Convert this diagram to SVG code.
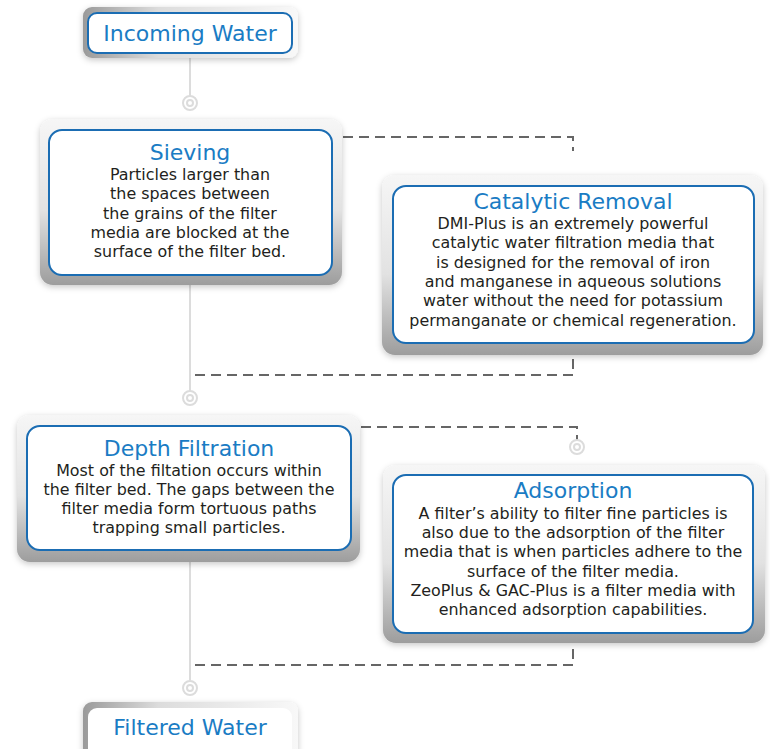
<svg xmlns="http://www.w3.org/2000/svg" width="770" height="749" viewBox="0 0 770 749">
<defs>
<linearGradient id="gv" x1="0" y1="0" x2="0" y2="1"><stop offset="0" stop-color="#f6f6f6"/><stop offset="0.55" stop-color="#e2e2e2"/><stop offset="1" stop-color="#9d9d9d"/></linearGradient>
<linearGradient id="gh" x1="0" y1="0" x2="1" y2="0"><stop offset="0" stop-color="#9a9a9a"/><stop offset="0.35" stop-color="#dcdcdc"/><stop offset="1" stop-color="#f8f8f8"/></linearGradient>
<filter id="sh" x="-10%" y="-10%" width="120%" height="130%"><feDropShadow dx="0" dy="2" stdDeviation="3" flood-color="#000" flood-opacity="0.22"/></filter>
</defs>
<style>
.plate{fill:url(#gv);filter:url(#sh)}
.plateh{fill:url(#gh);filter:url(#sh)}
.box{fill:#fff;stroke:#1b6db3;stroke-width:2}
.title{font-family:"DejaVu Sans",sans-serif;font-size:22px;fill:#1a7cc4;text-anchor:middle}
.body{font-family:"DejaVu Sans",sans-serif;font-size:15.9px;fill:#231f20;text-anchor:middle}
.solid{stroke:#dcdcdc;stroke-width:2;fill:none}
.dash{stroke:#666;stroke-width:2;fill:none;stroke-dasharray:10 6}
.ring{fill:#fff;stroke:#dcdcdc;stroke-width:2}
</style>
<rect width="770" height="749" fill="#fff"/>
<g id="connectors">
<line class="solid" x1="190" y1="57" x2="190" y2="96"/>
<line class="solid" x1="190" y1="285" x2="190" y2="391"/>
<line class="solid" x1="190" y1="562" x2="190" y2="680"/>
<circle class="ring" cx="190" cy="103" r="7"/><circle class="ring" cx="190" cy="103" r="3"/>
<circle class="ring" cx="190" cy="398" r="7"/><circle class="ring" cx="190" cy="398" r="3"/>
<circle class="ring" cx="190" cy="688" r="7"/><circle class="ring" cx="190" cy="688" r="3"/>
<polyline class="dash" points="343,137 573,137 573,151"/>
<polyline class="dash" points="195,375 573,375 573,355"/>
<polyline class="dash" points="361,427 577,427 577,440"/>
<circle class="ring" cx="577" cy="447" r="7"/><circle class="ring" cx="577" cy="447" r="3"/>
<polyline class="dash" points="195,665 573,665 573,643"/>
</g>
<g id="incoming">
<rect class="plateh" x="83" y="7" width="215" height="51" rx="9"/>
<rect class="box" x="88" y="13" width="204" height="40" rx="9"/>
<text class="title" x="190" y="41">Incoming Water</text>
</g>
<g id="sieving">
<rect class="plate" x="40" y="119" width="302" height="166" rx="13"/>
<rect class="box" x="49" y="130" width="283" height="145" rx="13"/>
<text class="title" x="190" y="160">Sieving</text>
<text class="body" x="190" y="180">Particles larger than</text>
<text class="body" x="190" y="199">the spaces between</text>
<text class="body" x="190" y="219">the grains of the filter</text>
<text class="body" x="190" y="238">media are blocked at the</text>
<text class="body" x="190" y="257">surface of the filter bed.</text>
</g>
<g id="catalytic">
<rect class="plate" x="382" y="175" width="381" height="180" rx="13"/>
<rect class="box" x="393" y="186" width="361" height="157" rx="13"/>
<text class="title" x="573" y="209">Catalytic Removal</text>
<text class="body" x="573" y="229">DMI-Plus is an extremely powerful</text>
<text class="body" x="573" y="248">catalytic water filtration media that</text>
<text class="body" x="573" y="268">is designed for the removal of iron</text>
<text class="body" x="573" y="287">and manganese in aqueous solutions</text>
<text class="body" x="573" y="306">water without the need for potassium</text>
<text class="body" x="573" y="326">permanganate or chemical regeneration.</text>
</g>
<g id="depth">
<rect class="plate" x="17" y="415" width="343" height="147" rx="13"/>
<rect class="box" x="27" y="426" width="324" height="124" rx="13"/>
<text class="title" x="189" y="456">Depth Filtration</text>
<text class="body" x="189" y="476">Most of the filtation occurs within</text>
<text class="body" x="189" y="495">the filter bed. The gaps between the</text>
<text class="body" x="189" y="514">filter media form tortuous paths</text>
<text class="body" x="189" y="533">trapping small particles.</text>
</g>
<g id="adsorption">
<rect class="plate" x="383" y="465" width="382" height="178" rx="13"/>
<rect class="box" x="393" y="475" width="360" height="158" rx="13"/>
<text class="title" x="573" y="498">Adsorption</text>
<text class="body" x="573" y="519">A filter’s ability to filter fine particles is</text>
<text class="body" x="573" y="538">also due to the adsorption of the filter</text>
<text class="body" x="573" y="557">media that is when particles adhere to the</text>
<text class="body" x="573" y="577">surface of the filter media.</text>
<text class="body" x="573" y="596">ZeoPlus &amp; GAC-Plus is a filter media with</text>
<text class="body" x="573" y="615">enhanced adsorption capabilities.</text>
</g>
<g id="filtered">
<rect class="plateh" x="83" y="702" width="215" height="60" rx="9"/>
<rect class="box" x="88" y="708" width="204" height="50" rx="9" style="stroke:none"/>
<text class="title" x="190" y="735">Filtered Water</text>
</g>
</svg>
